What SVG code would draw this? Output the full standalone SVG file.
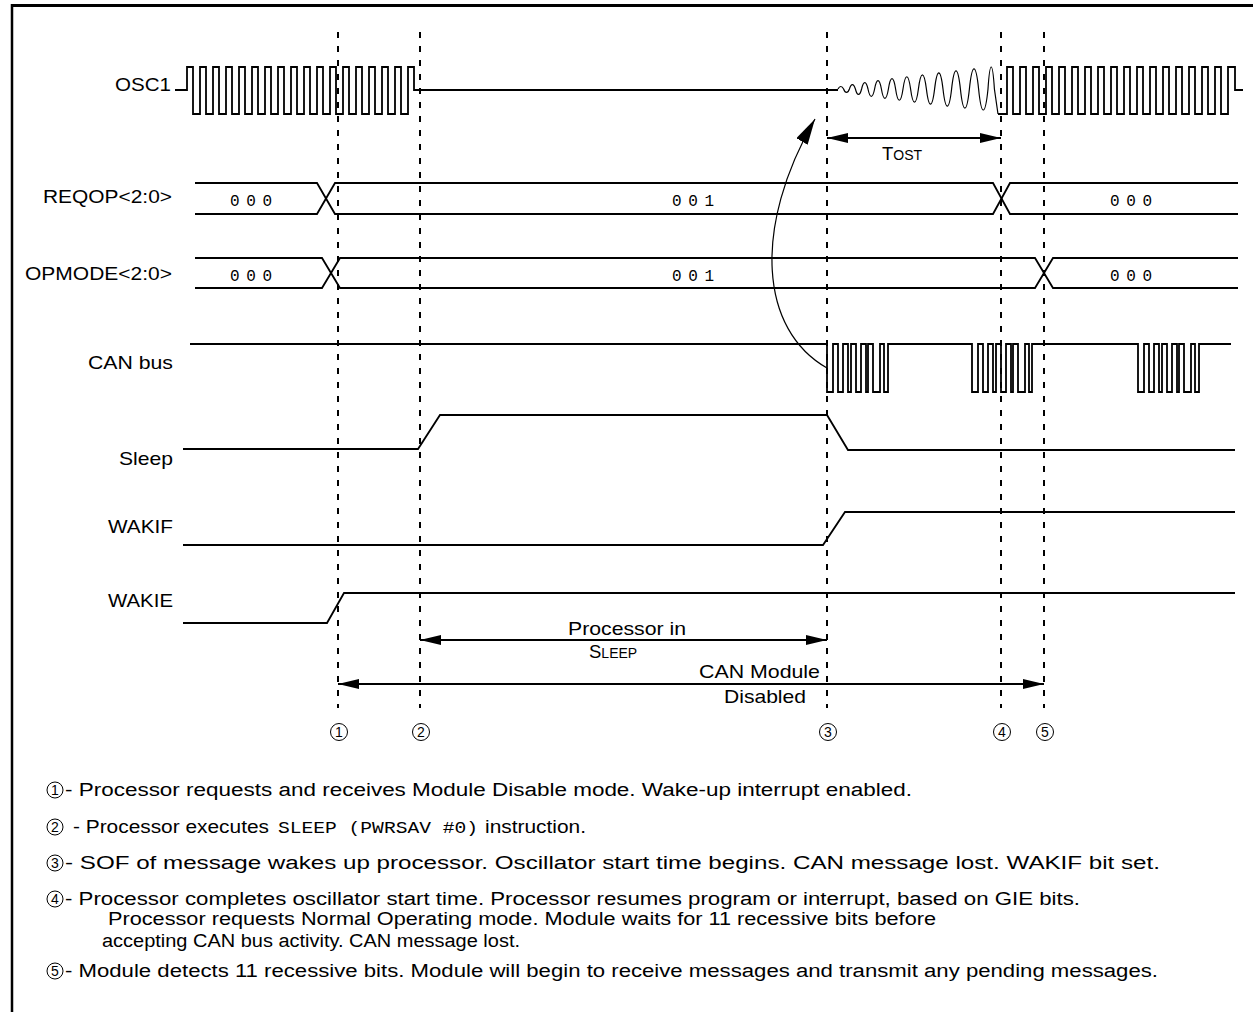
<svg xmlns="http://www.w3.org/2000/svg" width="1253" height="1012" viewBox="0 0 1253 1012">
<style>
.sig{fill:none;stroke:#000;stroke-width:1.8;stroke-linejoin:miter}
.thin{fill:none;stroke:#000;stroke-width:1.2}
.dash{stroke:#000;stroke-width:2;stroke-dasharray:6 8;fill:none}
.frame{stroke:#000;fill:none}
.arr{stroke:#000;stroke-width:1.8;fill:none}
.cc{fill:#fff;stroke:#000;stroke-width:1}
text{font-family:"Liberation Sans",Arial,sans-serif;fill:#000}
.lbl{font-size:18.5px}
.val{font-family:"Liberation Mono","Courier New",monospace;font-size:16px}
.note{font-size:18px}
.mono{font-family:"Liberation Mono","Courier New",monospace;font-size:17px}
.cd{font-size:14px;text-anchor:middle}
</style>
<defs>
<marker id="ah" viewBox="0 0 21 10" refX="21" refY="5" markerWidth="21" markerHeight="10" markerUnits="userSpaceOnUse" orient="auto-start-reverse"><path d="M0,0 L21,5 L0,10 z" fill="#000"/></marker>
<marker id="ahBig" viewBox="0 0 26 13" refX="26" refY="6.5" markerWidth="26" markerHeight="13" markerUnits="userSpaceOnUse" orient="auto"><path d="M0,0 L26,6.5 L0,13 z" fill="#000"/></marker>
</defs>
<rect width="1253" height="1012" fill="#fff"/>
<g id="frame">
<line class="frame" x1="11" y1="5.5" x2="1253" y2="5.5" stroke-width="3"/>
<line class="frame" x1="12" y1="4" x2="12" y2="1012" stroke-width="2.5"/>
</g>
<g id="markers-dashed">
<line class="dash" x1="338" y1="32" x2="338" y2="708"/>
<line class="dash" x1="420" y1="32" x2="420" y2="708"/>
<line class="dash" x1="827" y1="32" x2="827" y2="708"/>
<line class="dash" x1="1001" y1="32" x2="1001" y2="708"/>
<line class="dash" x1="1044" y1="32" x2="1044" y2="708"/>
</g>
<g id="osc1">
<text class="lbl" x="115" y="91" textLength="56" lengthAdjust="spacingAndGlyphs">OSC1</text>
<path class="sig" d="M175 90 H187 V67 h6v47h7v-47 h6v47h7v-47 h6v47h7v-47 h6v47h7v-47 h6v47h7v-47 h6v47h7v-47 h6v47h7v-47 h6v47h7v-47 h6v47h7v-47 h6v47h7v-47 h6v47h7v-47 h6v47h7v-47 h6v47h7v-47 h6v47h7v-47 h6v47h7v-47 h6v47h7v-47 h6v47h7v-47 h6V90H838"/>
<path class="thin" d="M838 89 C839.68 85.67 841.92 85.67 843.6 89 C845.34 93.63 847.66 93.63 849.4 89 C851.2 83.07 853.6 83.07 855.4 89 C857.26 96.23 859.74 96.23 861.6 89 C863.52 80.47 866.08 80.47 868 89 C869.98 98.83 872.62 98.83 874.6 89 C876.64 77.87 879.36 77.87 881.4 89 C883.5 101.43 886.3 101.43 888.4 89 C890.56 75.27 893.44 75.27 895.6 89 C897.82 104.03 900.78 104.03 903 89 C905.28 72.67 908.32 72.67 910.6 89 C912.94 106.63 916.06 106.63 918.4 89 C920.8 70.07 924 70.07 926.4 89 C928.86 109.23 932.14 109.23 934.6 89 C937.12 67.47 940.48 67.47 943 89 C945.58 111.83 949.02 111.83 951.6 89 C954.24 64.87 957.76 64.87 960.4 89 C963.1 114.43 966.7 114.43 969.4 89 C972.16 62.27 975.84 62.27 978.6 89 C981.42 117.03 985.18 117.03 988 89 C989.9 59.67 992.5 59.67 994.4 89 L998 114"/>
<path class="sig" d="M998 114 H1007 v-47h6v47h7 v-47h6v47h7 v-47h6v47h7 v-47h6v47h7 v-47h6v47h7 v-47h6v47h7 v-47h6v47h7 v-47h6v47h7 v-47h6v47h7 v-47h6v47h7 v-47h6v47h7 v-47h6v47h7 v-47h6v47h7 v-47h6v47h7 v-47h6v47h7 v-47h6v47h7 v-47h6v47h7 v-47h7V90H1243"/>
</g>
<g id="reqop">
<text class="lbl" x="43" y="203" textLength="129" lengthAdjust="spacingAndGlyphs">REQOP&lt;2:0&gt;</text>
<path class="sig" d="M195 183 H317 L335 214 H993 L1010 183 H1238"/>
<path class="sig" d="M195 214 H317 L335 183 H993 L1010 214 H1238"/>
<text class="val" x="230" y="206" textLength="42" lengthAdjust="spacing">000</text>
<text class="val" x="672" y="206" textLength="42" lengthAdjust="spacing">001</text>
<text class="val" x="1110" y="206" textLength="42" lengthAdjust="spacing">000</text>
</g>
<g id="opmode">
<text class="lbl" x="25" y="280" textLength="147" lengthAdjust="spacingAndGlyphs">OPMODE&lt;2:0&gt;</text>
<path class="sig" d="M195 258 H322 L340 288 H1035 L1053 258 H1238"/>
<path class="sig" d="M195 288 H322 L340 258 H1035 L1053 288 H1238"/>
<text class="val" x="230" y="281" textLength="42" lengthAdjust="spacing">000</text>
<text class="val" x="672" y="281" textLength="42" lengthAdjust="spacing">001</text>
<text class="val" x="1110" y="281" textLength="42" lengthAdjust="spacing">000</text>
</g>
<g id="canbus">
<text class="lbl" x="88" y="369" textLength="85" lengthAdjust="spacingAndGlyphs">CAN bus</text>
<path class="sig" d="M190 344 H827 V392 H833 V344 H838 V392 H843 V344 H848 V392 H851 V344 H856 V392 H861 V344 H866 V392 H868 V344 H873 V392 H880 V344 H884 V392 H888 V344 H972 V392 H978 V344 H983 V392 H988 V344 H993 V392 H996 V344 H1001 V392 H1006 V344 H1011 V392 H1013 V344 H1018 V392 H1025 V344 H1029 V392 H1032 V344 H1138 V392 H1144 V344 H1149 V392 H1154 V344 H1159 V392 H1162 V344 H1167 V392 H1172 V344 H1177 V392 H1179 V344 H1184 V392 H1191 V344 H1195 V392 H1199 V344 H1231"/>
</g>
<g id="sleep">
<text class="lbl" x="119" y="465" textLength="54" lengthAdjust="spacingAndGlyphs">Sleep</text>
<path class="sig" d="M183 449 H418 L440 415 H827 L848 450 H1235"/>
</g>
<g id="wakif">
<text class="lbl" x="108" y="533" textLength="65" lengthAdjust="spacingAndGlyphs">WAKIF</text>
<path class="sig" d="M183 545 H823 L845 512 H1235"/>
</g>
<g id="wakie">
<text class="lbl" x="108" y="607" textLength="65" lengthAdjust="spacingAndGlyphs">WAKIE</text>
<path class="sig" d="M183 623 H327 L344 593 H1235"/>
</g>
<g id="connectors">
<line class="arr" x1="827" y1="138" x2="1001" y2="138" marker-start="url(#ah)" marker-end="url(#ah)"/>
<line class="arr" x1="420" y1="640" x2="827" y2="640" marker-start="url(#ah)" marker-end="url(#ah)"/>
<line class="arr" x1="338" y1="684" x2="1044" y2="684" marker-start="url(#ah)" marker-end="url(#ah)"/>
<path class="thin" d="M827 368 C760 330 752 228 815 119" marker-end="url(#ahBig)"/>
</g>
<g id="annotations">
<text class="lbl" x="882" y="160"><tspan>T</tspan><tspan font-size="14">OST</tspan></text>
<text class="lbl" x="568" y="635" textLength="118" lengthAdjust="spacingAndGlyphs">Processor in</text>
<text class="lbl" x="589" y="658"><tspan>S</tspan><tspan font-size="14">LEEP</tspan></text>
<text class="lbl" x="699" y="678" textLength="121" lengthAdjust="spacingAndGlyphs">CAN Module</text>
<text class="lbl" x="724" y="703" textLength="82" lengthAdjust="spacingAndGlyphs">Disabled</text>
</g>
<g id="step-1"><circle class="cc" cx="339" cy="732" r="8.5"/><text class="cd" x="339" y="737">1</text></g>
<g id="step-2"><circle class="cc" cx="421" cy="732" r="8.5"/><text class="cd" x="421" y="737">2</text></g>
<g id="step-3"><circle class="cc" cx="828" cy="732" r="8.5"/><text class="cd" x="828" y="737">3</text></g>
<g id="step-4"><circle class="cc" cx="1002" cy="732" r="8.5"/><text class="cd" x="1002" y="737">4</text></g>
<g id="step-5"><circle class="cc" cx="1045" cy="732" r="8.5"/><text class="cd" x="1045" y="737">5</text></g>
<g id="notes">
<circle class="cc" cx="55" cy="790" r="8"/><text class="cd" x="55" y="795">1</text>
<text class="note" x="65" y="796" textLength="847" lengthAdjust="spacingAndGlyphs">- Processor requests and receives Module Disable mode. Wake-up interrupt enabled.</text>
<circle class="cc" cx="55" cy="827" r="8"/><text class="cd" x="55" y="832">2</text>
<text class="note" x="73" y="833" textLength="196" lengthAdjust="spacingAndGlyphs">- Processor executes</text>
<text class="mono" x="278" y="833" textLength="200" lengthAdjust="spacingAndGlyphs">SLEEP (PWRSAV #0)</text>
<text class="note" x="485" y="833" textLength="101" lengthAdjust="spacingAndGlyphs">instruction.</text>
<circle class="cc" cx="55" cy="863" r="8"/><text class="cd" x="55" y="868">3</text>
<text class="note" x="65" y="869" textLength="1095" lengthAdjust="spacingAndGlyphs">- SOF of message wakes up processor. Oscillator start time begins. CAN message lost. WAKIF bit set.</text>
<circle class="cc" cx="55" cy="899" r="8"/><text class="cd" x="55" y="904">4</text>
<text class="note" x="65" y="905" textLength="1015" lengthAdjust="spacingAndGlyphs">- Processor completes oscillator start time. Processor resumes program or interrupt, based on GIE bits.</text>
<text class="note" x="108" y="925" textLength="828" lengthAdjust="spacingAndGlyphs">Processor requests Normal Operating mode. Module waits for 11 recessive bits before</text>
<text class="note" x="102" y="947" textLength="418" lengthAdjust="spacingAndGlyphs">accepting CAN bus activity. CAN message lost.</text>
<circle class="cc" cx="55" cy="971" r="8"/><text class="cd" x="55" y="976">5</text>
<text class="note" x="65" y="977" textLength="1093" lengthAdjust="spacingAndGlyphs">- Module detects 11 recessive bits. Module will begin to receive messages and transmit any pending messages.</text>
</g>
</svg>
